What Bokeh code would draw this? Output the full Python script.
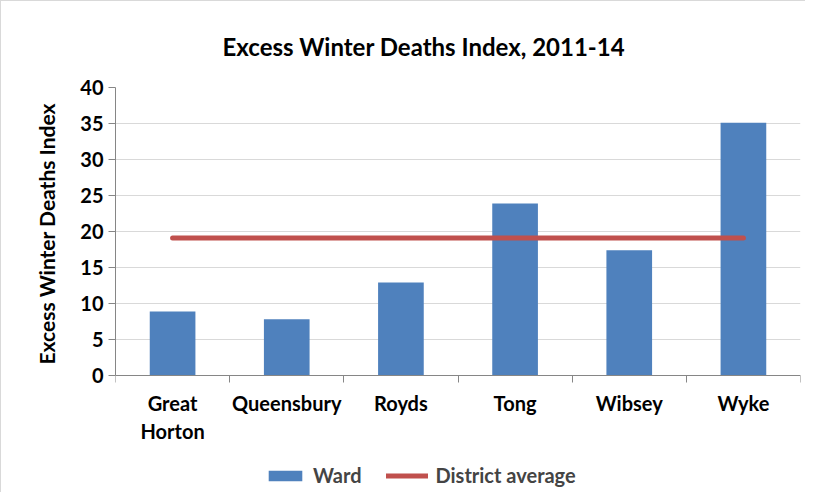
from bokeh.plotting import figure
from bokeh.models import ColumnDataSource, FixedTicker, Range1d, Legend, LegendItem, Title
from bokeh.embed import file_html
from bokeh.resources import INLINE

wards = ["Great\nHorton", "Queensbury", "Royds", "Tong", "Wibsey", "Wyke"]
ward_values = [8.9, 7.8, 12.9, 23.9, 17.4, 35.1]
district_average = 19.1
y_ticks = [0, 5, 10, 15, 20, 25, 30, 35, 40]

# layout: the plotted 0..40 band is 288px tall; the frame continues below it
FIG_H, TOP = 492, 86
frame_h = FIG_H - TOP
px_per_unit = 288 / 40
y_start = -(frame_h - 288) / px_per_unit

xs = [i + 0.5 for i in range(len(wards))]
src = ColumnDataSource(dict(x=xs, top=ward_values, avg=[district_average] * len(wards)))

FONT = "Lato"
p = figure(width=805, height=FIG_H, x_range=Range1d(0, len(wards)), y_range=Range1d(y_start, 40),
           output_backend="svg", toolbar_location=None,
           min_border_left=114, min_border_right=6, min_border_top=TOP, min_border_bottom=0,
           styles={"border-left": "1px solid #d9d9d9", "border-top": "1px solid #d9d9d9"})
p.outline_line_color = None

t = Title(text="Excess Winter Deaths Index, 2011-14", align="left", offset=107, standoff=53,
          text_font=FONT, text_font_size="24px", text_font_style="bold", text_color="#000000")
p.title = t

ylab = Title(text="Excess Winter Deaths Index", align="left", offset=(frame_h - 288) + 11,
             standoff=38, text_font=FONT, text_font_size="21px", text_font_style="bold",
             text_color="#000000")
p.add_layout(ylab, "left")

bars = p.vbar(x="x", top="top", width=0.4, bottom=0, source=src, fill_color="#4F81BD", line_color=None)
line = p.line(x="x", y="avg", source=src, line_color="#C0504D", line_width=5, line_cap="round")

p.xgrid.grid_line_color = None
p.ygrid.grid_line_color = "#d9d9d9"
p.ygrid.grid_line_width = 1

p.yaxis.ticker = FixedTicker(ticks=y_ticks)
p.yaxis.bounds = (0, 40)
p.yaxis.minor_tick_line_color = None

p.xaxis.fixed_location = 0
p.xaxis.ticker = FixedTicker(ticks=xs, minor_ticks=list(range(len(wards) + 1)))
p.xaxis.major_label_overrides = {x: w for x, w in zip(xs, wards)}
p.xaxis.major_tick_line_color = None
p.xaxis.minor_tick_line_color = "#868686"
p.xaxis.minor_tick_out = 7
p.xaxis.minor_tick_in = 0
p.xaxis.major_label_standoff = 8

for ax in (p.xaxis, p.yaxis):
    ax.axis_line_color = "#868686"
    ax.major_label_text_font = FONT
    ax.major_label_text_font_size = "20px"
    ax.major_label_text_font_style = "bold"
    ax.major_label_text_color = "#000000"
p.yaxis.major_tick_line_color = "#868686"
p.yaxis.major_tick_out = 7
p.yaxis.major_tick_in = 0
p.yaxis.major_label_standoff = 5

legend = Legend(items=[LegendItem(label="Ward", renderers=[bars]),
                       LegendItem(label="District average", renderers=[line])],
                orientation="horizontal", location=(149, 6), padding=4,
                label_text_font=FONT, label_text_font_size="20px", label_text_font_style="bold",
                glyph_width=42, glyph_height=13, spacing=25, label_standoff=7,
                border_line_color=None, background_fill_alpha=0)
p.add_layout(legend, "center")

open("out.html", "w").write(file_html(p, INLINE))
